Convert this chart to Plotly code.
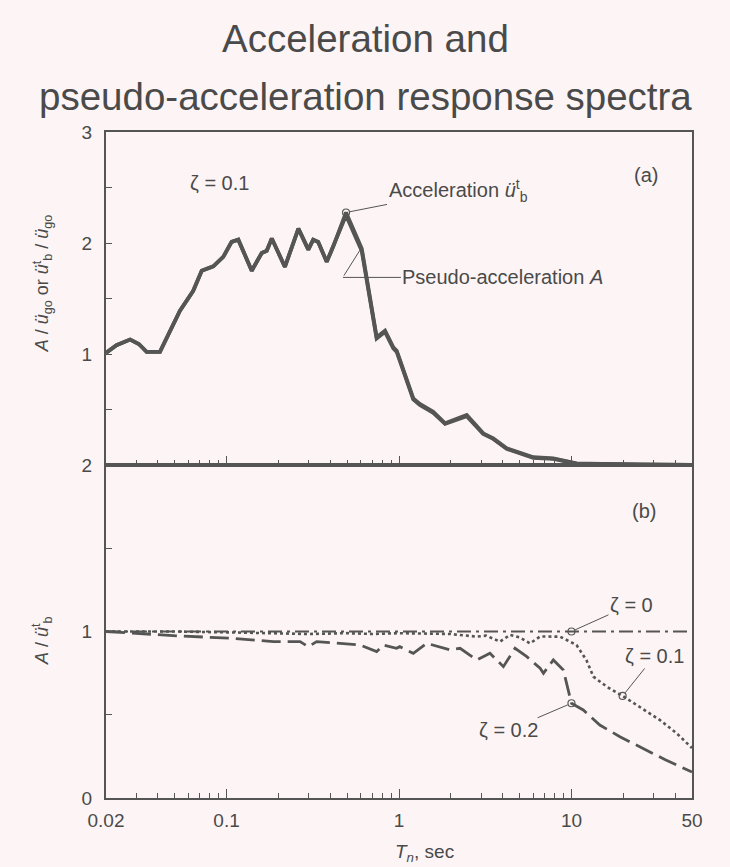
import math
import plotly.graph_objects as go
from plotly.subplots import make_subplots

# ---------------- data ----------------
# (a) acceleration spectrum, zeta = 0.1  (normalised by peak ground acceleration)
period_a = [0.02, 0.023, 0.0276, 0.031, 0.0344, 0.0411, 0.0537, 0.0641, 0.0718, 0.0838,
            0.0957, 0.107, 0.117, 0.140, 0.160, 0.171, 0.183, 0.218, 0.261, 0.298,
            0.318, 0.34, 0.381, 0.416, 0.493, 0.569, 0.608, 0.742, 0.830, 0.927,
            0.97, 1.21, 1.32, 1.58, 1.85, 2.47, 3.08, 3.52, 4.21, 6.01,
            7.85, 10.7, 14.6, 25.0, 50.0]
accel = [1.01, 1.08, 1.13, 1.09, 1.02, 1.02, 1.39, 1.57, 1.75, 1.79,
         1.875, 2.01, 2.03, 1.75, 1.91, 1.93, 2.04, 1.785, 2.13, 1.94,
         2.03, 2.01, 1.83, 1.97, 2.275, 2.06, 1.95, 1.15, 1.21, 1.06,
         1.03, 0.60, 0.55, 0.48, 0.375, 0.45, 0.285, 0.24, 0.15, 0.07,
         0.06, 0.015, 0.01, 0.003, 0.0]
pseudo = [1.01, 1.08, 1.13, 1.09, 1.02, 1.02, 1.39, 1.57, 1.75, 1.79,
          1.875, 2.01, 2.03, 1.75, 1.91, 1.93, 2.04, 1.785, 2.13, 1.94,
          2.03, 2.01, 1.83, 1.97, 2.25, 2.03, 1.93, 1.14, 1.20, 1.05,
          1.02, 0.59, 0.54, 0.47, 0.37, 0.44, 0.28, 0.235, 0.145, 0.065,
          0.055, 0.012, 0.008, 0.002, 0.0]

# (b) ratio A / u_b^t
period_z0 = [0.02, 10.0, 50.0]
ratio_z0 = [1.0, 1.0, 1.0]

period_z1 = [0.02, 0.05, 0.1, 0.2, 0.3, 0.5, 0.7, 1.0, 1.5, 1.98,
             2.83, 3.2, 3.85, 4.41, 5.0, 5.76, 6.58, 8.59, 10.7, 12.2,
             13.4, 16.0, 19.8, 24.9, 32.6, 40.7, 50.0]
ratio_z1 = [1.0, 1.0, 0.995, 0.99, 0.985, 0.99, 0.985, 0.99, 0.985, 0.985,
            0.969, 0.975, 0.939, 0.98, 0.965, 0.929, 0.97, 0.969, 0.919, 0.829,
            0.729, 0.669, 0.613, 0.548, 0.468, 0.389, 0.30]

period_z2 = [0.02, 0.0537, 0.109, 0.187, 0.267, 0.298, 0.333, 0.455, 0.594, 0.742,
             0.811, 0.968, 1.01, 1.21, 1.45, 1.98, 2.26, 2.83, 3.37, 4.03,
             4.71, 5.51, 6.58, 6.88, 7.85, 8.97, 10.0, 11.7, 14.6, 19.1,
             24.9, 35.0, 50.0]
ratio_z2 = [1.0, 0.973, 0.959, 0.939, 0.939, 0.909, 0.939, 0.929, 0.919, 0.879,
            0.919, 0.899, 0.909, 0.869, 0.929, 0.889, 0.899, 0.829, 0.869, 0.789,
            0.899, 0.849, 0.779, 0.749, 0.829, 0.769, 0.569, 0.529, 0.438, 0.368,
            0.308, 0.23, 0.156]

x_tick_vals = [0.02, 0.1, 1, 10, 50]
x_tick_text = ["0.02", "0.1", "1", "10", "50"]
x_major_inner = [0.1, 1, 10]
x_minor = [0.03, 0.04, 0.05, 0.06, 0.07, 0.08, 0.09,
           0.2, 0.3, 0.4, 0.5, 0.6, 0.7, 0.8, 0.9,
           2, 3, 4, 5, 6, 7, 8, 9, 20, 30, 40]
ya_ticks = [1, 2, 3]
yb_ticks = [0, 1, 2]

# ---------------- style ----------------
BG = "#fdf5f5"
INK = "#555555"
TXT = "#4a4a4a"
FONT = "Liberation Sans, Arial, sans-serif"

fig = make_subplots(rows=2, cols=1, shared_xaxes=True, vertical_spacing=0)

fig.add_trace(go.Scatter(x=period_a, y=pseudo, mode="lines",
                         line=dict(color=INK, width=3.8), name="Pseudo-acceleration A"), 1, 1)
fig.add_trace(go.Scatter(x=period_a, y=accel, mode="lines",
                         line=dict(color=INK, width=3.8), name="Acceleration"), 1, 1)

fig.add_trace(go.Scatter(x=period_z0, y=ratio_z0, mode="lines",
                         line=dict(color=INK, width=2.2, dash="14px,5px,3px,5px"), name="ζ = 0"), 2, 1)
fig.add_trace(go.Scatter(x=period_z1, y=ratio_z1, mode="lines",
                         line=dict(color=INK, width=2.6, dash="dot"), name="ζ = 0.1"), 2, 1)
fig.add_trace(go.Scatter(x=period_z2, y=ratio_z2, mode="lines",
                         line=dict(color=INK, width=2.8, dash="19px,7px"), name="ζ = 0.2"), 2, 1)

# small open circles at the labelled points
ipk = accel.index(max(accel))
i0 = period_z0.index(10.0)
i1 = period_z1.index(19.8)
i2 = period_z2.index(10.0)
circ = dict(symbol="circle-open", size=7, color=INK, line=dict(width=1.2))
fig.add_trace(go.Scatter(x=[period_a[ipk]], y=[accel[ipk]], mode="markers", marker=circ), 1, 1)
fig.add_trace(go.Scatter(x=[period_z0[i0], period_z1[i1], period_z2[i2]],
                         y=[ratio_z0[i0], ratio_z1[i1], ratio_z2[i2]],
                         mode="markers", marker=circ), 2, 1)

axis_common = dict(type="log", range=[math.log10(0.02), math.log10(50)],
                   showline=True, linecolor=INK, linewidth=2, mirror=True,
                   showgrid=False, zeroline=False, ticks="inside", tickcolor=INK,
                   tickwidth=1.2,
                   minor=dict(tickmode="array", tickvals=x_minor, ticks="inside",
                              ticklen=5, tickcolor=INK, tickwidth=1, showgrid=False))
fig.update_xaxes(**axis_common, tickvals=x_major_inner, ticklen=9, showticklabels=False,
                 row=1, col=1)
fig.update_xaxes(**axis_common, tickvals=x_tick_vals, ticktext=x_tick_text, ticklen=9,
                 tickfont=dict(family=FONT, size=19, color=TXT), ticklabelstandoff=4,
                 row=2, col=1)

yax_common = dict(showline=True, linecolor=INK, linewidth=2, mirror=True,
                  showgrid=False, zeroline=False, ticks="inside", tickcolor=INK,
                  ticklen=6, tickwidth=1.2,
                  tickfont=dict(family=FONT, size=19, color=TXT), ticklabelstandoff=8,
                  minor=dict(dtick=0.5, ticks="inside", ticklen=6, tickcolor=INK,
                             tickwidth=1, showgrid=False))
fig.update_yaxes(**yax_common, range=[0, 3], tickvals=ya_ticks, row=1, col=1)
fig.update_yaxes(**yax_common, range=[0, 2], tickvals=yb_ticks, row=2, col=1)
fig.update_layout(yaxis=dict(domain=[0.5, 1.0]), yaxis2=dict(domain=[0.0, 0.5]))

afont = dict(family=FONT, size=20, color=TXT)
tfont = dict(family=FONT, size=38.5, color=TXT)
ann = []
# titles (centred on the page)
ann.append(dict(text="Acceleration and", xref="paper", yref="paper", x=0.442, y=1.141,
                xanchor="center", yanchor="middle", showarrow=False, font=tfont))
ann.append(dict(text="pseudo-acceleration response spectra", xref="paper", yref="paper",
                x=0.442, y=1.054, xanchor="center", yanchor="middle", showarrow=False,
                font=tfont))
# axis titles
ann.append(dict(text="<i>A</i> / <i>ü</i><sub>go</sub> or <i>ü</i><sup>t</sup><sub>b</sub> / <i>ü</i><sub>go</sub>",
                xref="paper", yref="paper", x=-0.109, y=0.773, textangle=-90,
                xanchor="center", yanchor="middle", showarrow=False, font=dict(family=FONT, size=18, color=TXT)))
ann.append(dict(text="<i>A</i> / <i>ü</i><sup>t</sup><sub>b</sub>",
                xref="paper", yref="paper", x=-0.109, y=0.236, textangle=-90,
                xanchor="center", yanchor="middle", showarrow=False, font=dict(family=FONT, size=18, color=TXT)))
ann.append(dict(text="<i>T</i><sub><i>n</i></sub>, sec", xref="paper", yref="paper",
                x=0.543, y=-0.0826, xanchor="center", yanchor="middle", showarrow=False,
                font=dict(family=FONT, size=19, color=TXT)))
# panel labels
ann.append(dict(text="ζ = 0.1", xref="x domain", yref="y domain", x=0.14, y=0.885,
                showarrow=False, font=afont))
ann.append(dict(text="(a)", xref="x domain", yref="y domain", x=0.945, y=0.909,
                showarrow=False, font=afont))
ann.append(dict(text="(b)", xref="x2 domain", yref="y2 domain", x=0.942, y=0.901,
                showarrow=False, font=afont))

arrow = dict(showarrow=True, arrowhead=0, arrowwidth=1, arrowcolor=INK, axref="pixel", ayref="pixel")
# top-panel callouts
ann.append(dict(text="Acceleration <i>ü</i><sup>t</sup><sub>b</sub>", xref="x", yref="y",
                x=math.log10(period_a[ipk]), y=accel[ipk], ax=112, ay=-22,
                font=afont, standoff=4, **arrow))
ann.append(dict(text="", xref="x", yref="y", x=math.log10(0.594), y=1.936, ax=-17, ay=27,
                **arrow))
ann.append(dict(text="Pseudo-acceleration <i>A</i>", xref="x", yref="y",
                x=math.log10(0.473), y=1.69, ax=160, ay=0, font=afont, **arrow))
# bottom-panel callouts
ann.append(dict(text="ζ = 0", xref="x2", yref="y2", x=math.log10(period_z0[i0]), y=ratio_z0[i0],
                ax=60, ay=-27, font=afont, standoff=4, **arrow))
ann.append(dict(text="ζ = 0.1", xref="x2", yref="y2", x=math.log10(period_z1[i1]), y=ratio_z1[i1],
                ax=32, ay=-40, font=afont, standoff=4, **arrow))
ann.append(dict(text="ζ = 0.2", xref="x2", yref="y2", x=math.log10(period_z2[i2]), y=ratio_z2[i2],
                ax=-63, ay=27, font=afont, standoff=4, **arrow))

fig.update_layout(
    width=730, height=867,
    margin=dict(l=106, r=38, t=132, b=69),
    paper_bgcolor=BG, plot_bgcolor=BG,
    showlegend=False,
    font=dict(family=FONT, color=TXT),
    annotations=ann,
)

fig.write_html("out.html")
